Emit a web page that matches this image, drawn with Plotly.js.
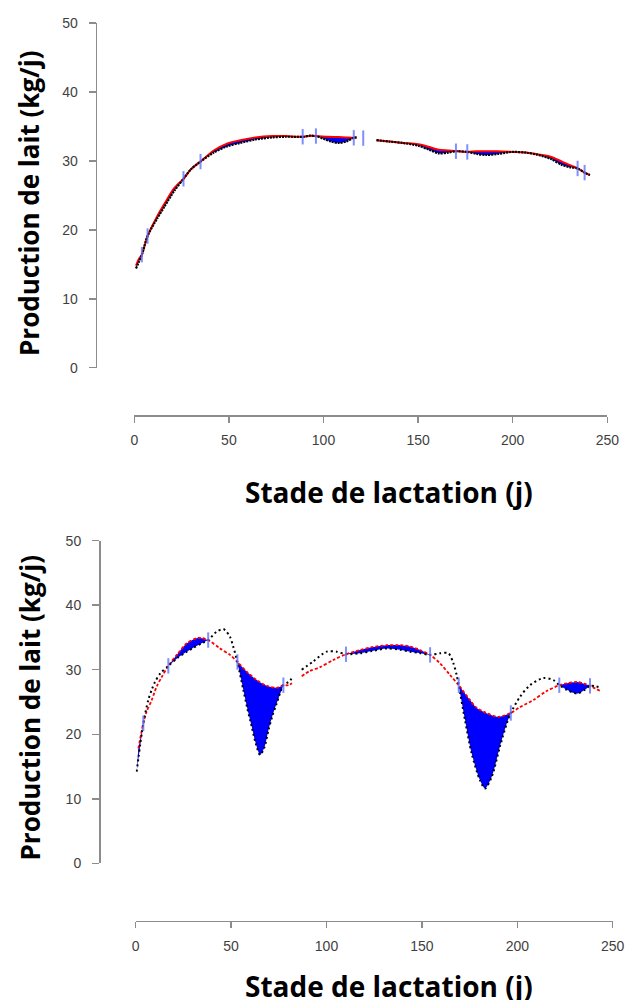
<!DOCTYPE html>
<html><head><meta charset="utf-8">
<script src="https://cdn.plot.ly/plotly-3.0.1.min.js"></script>
<style>html,body{margin:0;padding:0;background:#fff}</style>
</head><body>
<div id="chart" style="width:627px;height:1000px"></div>
<script>
// ---------- shared tick labels ----------
const xTickVals = [0, 50, 100, 150, 200, 250];
const yTickVals = [0, 10, 20, 30, 40, 50];
const xTitle = 'Stade de lactation (j)';
const yTitle = 'Production de lait (kg/j)';

// ---------- top panel ----------
const topObsDays = [0.9, 4.0, 7.0, 12, 16, 21, 26, 30, 35, 42, 49, 56, 64, 73, 80, 89, 93, 96, 100, 104, 108, 112, 116, 117.5, null, 128, 135, 142, 150, 156, 161, 166, 170, 176, 181, 186, 192, 200, 207, 213, 220, 226, 230, 234.3, 238, 240.8];
const topObsKg = [14.4, 16.4, 19.1, 21.6, 23.4, 25.6, 27.4, 28.8, 29.9, 31.2, 32.1, 32.6, 33.1, 33.4, 33.5, 33.5, 33.65, 33.6, 33.2, 32.8, 32.6, 32.8, 33.35, 33.4, null, 33.0, 32.8, 32.6, 32.2, 31.6, 31.1, 31.2, 31.4, 31.3, 31.0, 30.85, 31.0, 31.3, 31.2, 30.9, 30.3, 29.4, 29.1, 28.9, 28.3, 27.95];
const topModelDays = [0.9, 2.5, 4.0, 7.0, 12, 16, 21, 26, 30, 35, 42, 49, 56, 64, 73, 80, 89, 93, 96, 102, 108, 112, 116, 117.5, null, 128, 135, 142, 150, 156, 161, 166, 170, 176, 181, 186, 192, 200, 207, 213, 220, 226, 230, 234.3, 238, 240.8];
const topModelKg = [14.8, 15.8, 16.4, 19.1, 21.9, 23.8, 26.0, 27.4, 28.8, 29.9, 31.5, 32.5, 33.0, 33.4, 33.6, 33.6, 33.5, 33.65, 33.6, 33.5, 33.45, 33.4, 33.35, 33.4, null, 33.0, 32.8, 32.6, 32.4, 32.0, 31.6, 31.5, 31.4, 31.3, 31.4, 31.4, 31.4, 31.3, 31.2, 30.95, 30.6, 29.9, 29.4, 28.9, 28.3, 27.95];
const topLossStart = [0.9, 7.0, 35, 96, 142, 176, 207];
const topLossEnd = [4.0, 26, 89, 116, 170, 200, 234.3];
const topMarkDays = [4.0, 7.0, 26, 35, 89, 96, 116, 121, 170, 176, 234.3, 238];
const topMarkKg = [16.4, 19.1, 27.4, 29.9, 33.5, 33.6, 33.35, 33.3, 31.4, 31.3, 28.9, 28.3];

// ---------- bottom panel ----------
const botObsDays = [0.5, 4.0, 6.6, 8.4, 10.1, 12.8, 17.1, 21.8, 26.8, 30.2, 34.6, 38.0, 42.4, 46.0, 49.4, 51.1, 53.3, 56.4, 58.5, 60.8, 62.9, 65.2, 67.4, 69.6, 71.8, 73.9, 77.4, 80.0, 82.6, null, 87.0, 93.1, 100.1, 105.3, 110.2, 117.5, 123.8, 131.6, 138.7, 143.8, 148.6, 154.3, 159.5, 163.9, 166.5, 168.2, 169.3, 172.6, 176.1, 180.4, 183.1, 186.6, 190.9, 194.5, 196.6, 201.4, 206.7, 213.6, 218.9, 222.0, 225.9, 231.2, 235.5, 238.1, 244.2];
const botObsKg = [14.2, 21.7, 25.3, 26.9, 28.1, 29.4, 30.6, 31.8, 32.8, 33.4, 34.1, 34.6, 35.9, 36.3, 35.1, 33.6, 31.2, 26.9, 24.0, 21.2, 18.6, 16.8, 17.9, 20.7, 23.0, 24.8, 27.6, 28.1, 28.9, null, 30.0, 31.3, 32.8, 32.8, 32.4, 32.55, 32.9, 33.3, 33.1, 32.8, 32.6, 32.3, 32.55, 32.55, 31.0, 29.2, 27.6, 22.2, 17.0, 12.9, 11.6, 13.4, 18.1, 21.7, 23.3, 25.8, 27.6, 28.7, 28.4, 27.6, 26.9, 26.3, 26.9, 27.5, 27.2];
const botModelDays = [1.4, 4.0, 5.7, 8.4, 11.0, 13.7, 17.1, 21.8, 26.8, 32.0, 34.7, 38.0, 44.2, 49.4, 53.3, 58.2, 63.4, 68.7, 73.9, 77.4, 80.0, 81.9, null, 87.0, 91.2, 96.6, 103.5, 110.2, 117.5, 123.8, 131.6, 138.7, 143.8, 148.6, 154.3, 159.5, 164.7, 169.3, 175.2, 178.3, 182.2, 190.0, 196.6, 201.4, 208.4, 215.4, 222.0, 225.9, 231.2, 235.5, 238.1, 244.2];
const botModelKg = [17.8, 21.7, 23.5, 25.3, 27.4, 28.9, 30.6, 32.4, 34.1, 34.9, 34.9, 34.6, 33.3, 32.3, 31.2, 29.7, 28.4, 27.5, 27.2, 27.6, 27.6, 27.9, null, 29.0, 29.8, 30.4, 31.5, 32.4, 33.06, 33.5, 33.8, 33.8, 33.6, 33.1, 32.3, 31.0, 29.2, 27.6, 25.3, 24.2, 23.5, 22.7, 23.3, 24.2, 25.3, 26.7, 27.6, 27.9, 28.1, 27.8, 27.5, 26.6];
const botLossStart = [0.5, 17.1, 53.3, 110.2, 169.3, 222.0];
const botLossEnd = [4.0, 38.0, 77.4, 154.3, 196.6, 238.1];
const botMarkDays = [4.0, 17.1, 38.0, 53.3, 77.4, 110.2, 154.3, 169.3, 196.6, 222.0, 238.1];
const botMarkKg = [21.7, 30.6, 34.6, 31.2, 27.6, 32.4, 32.3, 27.6, 23.3, 27.6, 27.5];

// ---------- helpers ----------
function subset(xs, ys, a, b) {
  const ox = [], oy = [];
  for (let i = 0; i < xs.length; i++) {
    if (xs[i] === null || ys[i] === null) continue;
    if (xs[i] >= a - 1e-9 && xs[i] <= b + 1e-9) { ox.push(xs[i]); oy.push(ys[i]); }
  }
  return [ox, oy];
}

function panel(obsX, obsY, modX, modY, lossA, lossB, markX, markY, xa, ya, st) {
  const tr = [];
  for (let k = 0; k < lossA.length; k++) {
    const m = subset(modX, modY, lossA[k], lossB[k]);
    const o = subset(obsX, obsY, lossA[k], lossB[k]);
    tr.push({x: m[0], y: m[1], xaxis: xa, yaxis: ya, mode: 'lines', type: 'scatter',
      line: {width: 0, shape: 'spline', smoothing: 0.8}, hoverinfo: 'skip', showlegend: false});
    tr.push({x: o[0], y: o[1], xaxis: xa, yaxis: ya, mode: 'lines', type: 'scatter',
      fill: 'tonexty', fillcolor: '#0000ff',
      line: {width: 0, shape: 'spline', smoothing: 0.8}, hoverinfo: 'skip', showlegend: false});
  }
  tr.push({x: modX, y: modY, xaxis: xa, yaxis: ya, mode: 'lines', type: 'scatter', connectgaps: false,
    line: {color: '#ff0000', width: st.redW, dash: st.redDash, shape: 'spline', smoothing: 0.8}, showlegend: false});
  tr.push({x: obsX, y: obsY, xaxis: xa, yaxis: ya, mode: 'lines', type: 'scatter', connectgaps: false,
    line: {color: '#000000', width: st.blkW, dash: st.blkDash, shape: 'spline', smoothing: 0.8}, showlegend: false});
  tr.push({x: markX, y: markY, xaxis: xa, yaxis: ya, mode: 'markers', type: 'scatter', cliponaxis: false,
    marker: {symbol: 'line-ns', size: st.markSize, line: {width: 2, color: 'rgba(95,115,255,0.8)'}}, showlegend: false});
  return tr;
}

const data = [].concat(
  panel(topObsDays, topObsKg, topModelDays, topModelKg, topLossStart, topLossEnd, topMarkDays, topMarkKg, 'x', 'y',
        {redW: 2, redDash: 'solid', blkW: 2.2, blkDash: '2px,1px', markSize: 11}),
  panel(botObsDays, botObsKg, botModelDays, botModelKg, botLossStart, botLossEnd, botMarkDays, botMarkKg, 'x2', 'y2',
        {redW: 1.8, redDash: '3px,2px', blkW: 2, blkDash: '2px,3px', markSize: 11})
);

const tickFont = {family: 'Liberation Sans, Arial, sans-serif', size: 14, color: '#3f3f3f'};
function xAxis(domain, pos) {
  return {domain: domain, range: [0, 250], anchor: 'free', position: pos, showline: true,
    linecolor: '#8c8c8c', linewidth: 1.5, ticks: 'outside', ticklen: 6, tickwidth: 1.5, tickcolor: '#8c8c8c',
    tickmode: 'array', tickvals: xTickVals, showgrid: false, zeroline: false, tickfont: tickFont,
    ticklabelstandoff: 6, fixedrange: true};
}
function yAxis(domain, pos) {
  return {domain: domain, range: [0, 50], anchor: 'free', position: pos, showline: true,
    linecolor: '#8c8c8c', linewidth: 1.5, ticks: 'outside', ticklen: 7, tickwidth: 1.5, tickcolor: '#8c8c8c',
    tickmode: 'array', tickvals: yTickVals, showgrid: false, zeroline: false, tickfont: tickFont,
    ticklabelstandoff: 8, fixedrange: true};
}
const yTitleFont = {family: 'Open Sans, sans-serif', size: 26, color: '#000', weight: 700};
const xTitleFont = {family: 'Open Sans, sans-serif', size: 28, color: '#000', weight: 700};

const layout = {
  width: 627, height: 1000,
  margin: {l: 0, r: 0, t: 0, b: 0},
  paper_bgcolor: '#ffffff', plot_bgcolor: 'rgba(0,0,0,0)',
  showlegend: false,
  xaxis: xAxis([134.3 / 627, 607.3 / 627], 1 - 415 / 1000),
  yaxis: yAxis([1 - 367.7 / 1000, 1 - 23 / 1000], 95.7 / 627),
  xaxis2: xAxis([135.7 / 627, 612.7 / 627], 1 - 920.7 / 1000),
  yaxis2: yAxis([1 - 863.3 / 1000, 1 - 540.7 / 1000], 99 / 627),
  annotations: [
    {text: yTitle, xref: 'paper', yref: 'paper', x: 28.5 / 627, y: 1 - 203.5 / 1000, textangle: -90,
     xanchor: 'center', yanchor: 'middle', showarrow: false, font: yTitleFont},
    {text: yTitle, xref: 'paper', yref: 'paper', x: 29 / 627, y: 1 - 707.5 / 1000, textangle: -90,
     xanchor: 'center', yanchor: 'middle', showarrow: false, font: yTitleFont},
    {text: xTitle, xref: 'paper', yref: 'paper', x: 389 / 627, y: 1 - 492 / 1000,
     xanchor: 'center', yanchor: 'middle', showarrow: false, font: xTitleFont},
    {text: xTitle, xref: 'paper', yref: 'paper', x: 389 / 627, y: 1 - 986 / 1000,
     xanchor: 'center', yanchor: 'middle', showarrow: false, font: xTitleFont}
  ]
};

Plotly.newPlot('chart', data, layout, {staticPlot: true, displayModeBar: false});
</script>
</body></html>
